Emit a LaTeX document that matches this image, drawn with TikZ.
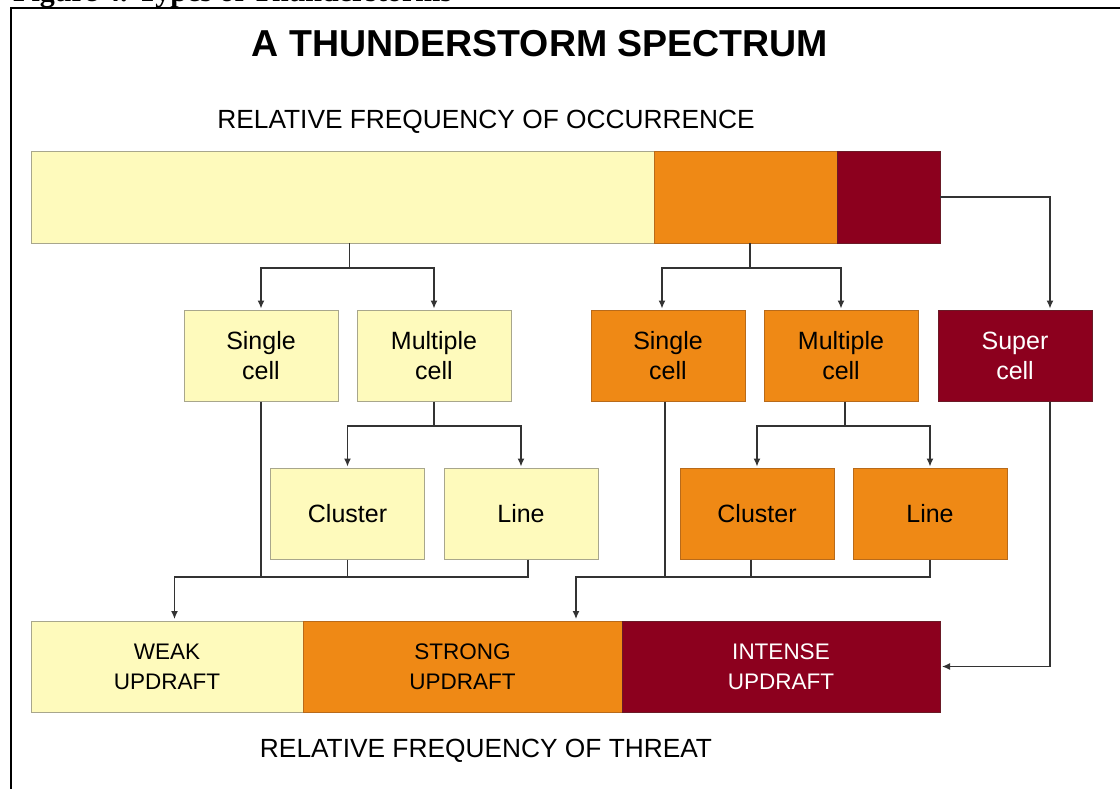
\documentclass[tikz,border=0pt]{standalone}
\usepackage{fontspec}
\setmainfont{Liberation Sans}
\newfontfamily\headserif{Liberation Serif}
\usetikzlibrary{arrows.meta,calc}

\definecolor{weakfill}{HTML}{FEFABC}
\definecolor{weakline}{HTML}{A8A68C}
\definecolor{strongfill}{HTML}{EF8915}
\definecolor{strongline}{HTML}{B86A1A}
\definecolor{intensefill}{HTML}{8C001E}
\definecolor{intenseline}{HTML}{6A1A26}
\definecolor{conngray}{HTML}{333333}

\tikzset{
  cellbox/.style={rectangle, inner sep=0pt, outer sep=0pt, minimum width=154pt,
    minimum height=91pt, align=center, line width=0.8pt,
    font=\fontsize{25}{30}\selectfont},
  barseg/.style={rectangle, inner sep=0pt, outer sep=0pt, minimum height=91pt,
    align=center, line width=0.8pt, font=\fontsize{22.5}{30}\selectfont},
  weak/.style={fill=weakfill, draw=weakline},
  strong/.style={fill=strongfill, draw=strongline},
  intense/.style={fill=intensefill, draw=intenseline, text=white},
  conn/.style={draw=conngray, line width=1.3pt},
  arr/.style={conn, -{Latex[length=8pt,width=7pt]}, shorten >=2pt},
  twoarr/.style={conn, {Latex[length=8pt,width=7pt]}-{Latex[length=8pt,width=7pt]},
    shorten <=2pt, shorten >=2pt}
}

\begin{document}
\begin{tikzpicture}[x=1pt,y=-1pt]
\useasboundingbox (0,0) rectangle (1120,788);

% Frame and cut caption
\draw[line width=2.2pt] (11,800) -- (11,8) -- (1130,8);
\node[anchor=base west, inner sep=0pt, font=\headserif\bfseries\fontsize{30}{30}\selectfont]
  (caption) at (13,1) {Figure 4. Types of Thunderstorms};

% Titles
\node[font=\bfseries\fontsize{37.5}{40}\selectfont] (title) at (540,44) {A THUNDERSTORM SPECTRUM};
\node[anchor=base, font=\fontsize{26.3}{30}\selectfont] (occtext) at (486,128) {RELATIVE FREQUENCY OF OCCURRENCE};
\node[anchor=base, font=\fontsize{26.3}{30}\selectfont] (threattext) at (486,757) {RELATIVE FREQUENCY OF THREAT};

% Occurrence bar
\node[barseg, weak, minimum width=623pt, minimum height=92pt] (occW) at (342.5,197) {};
\node[barseg, strong, minimum width=183pt, minimum height=92pt] (occS) at (745.5,197) {};
\node[barseg, intense, minimum width=103pt, minimum height=92pt] (occI) at (888.5,197) {};

% Storm types
\node[cellbox, weak] (singleW) at (261,356) {Single\\cell};
\node[cellbox, weak] (multiW) at (434,356) {Multiple\\cell};
\node[cellbox, strong] (singleS) at (668,356) {Single\\cell};
\node[cellbox, strong] (multiS) at (841,356) {Multiple\\cell};
\node[cellbox, intense] (super) at (1015,356) {Super\\cell};

\node[cellbox, weak] (clusterW) at (347.5,514) {Cluster};
\node[cellbox, weak] (lineW) at (521,514) {Line};
\node[cellbox, strong] (clusterS) at (757,514) {Cluster};
\node[cellbox, strong] (lineS) at (930,514) {Line};

% Threat bar
\node[barseg, weak, minimum width=272pt] (weakB) at (167,666.5) {WEAK\\UPDRAFT};
\node[barseg, strong, minimum width=319pt] (strongB) at (462.5,666.5) {STRONG\\UPDRAFT};
\node[barseg, intense, minimum width=318pt] (intenseB) at (781,666.5) {INTENSE\\UPDRAFT};

% Splits
\coordinate (forkW) at (349.5,268);
\coordinate (forkS) at (750,268);
\draw[conn] (occW.south -| forkW) -- (forkW);
\draw[twoarr] (singleW.north) |- (forkW) -| (multiW.north);
\draw[conn] (occS.south -| forkS) -- (forkS);
\draw[twoarr] ([xshift=-6pt]singleS.north) |- (forkS) -| (multiS.north);

\coordinate (forkMW) at (434,426);
\coordinate (forkMS) at (845,426);
\draw[conn] (multiW.south) -- (forkMW);
\draw[twoarr] (clusterW.north) |- (forkMW) -| (lineW.north);
\draw[conn] (multiS.south -| forkMS) -- (forkMS);
\draw[twoarr] (clusterS.north) |- (forkMS) -| (lineS.north);

% Merges
\coordinate (mergeW) at (174.5,577);
\coordinate (mergeS) at (576,577);
\draw[arr] ([xshift=7pt]lineW.south) |- (mergeW) -- (mergeW |- weakB.north);
\draw[conn] (singleW.south) -- (singleW.south |- mergeW);
\draw[conn] (clusterW.south) -- (clusterW.south |- mergeW);
\draw[arr] (lineS.south) |- (mergeS) -- (mergeS |- strongB.north);
\draw[conn] ([xshift=-3pt]singleS.south) -- ([xshift=-3pt]singleS.south |- mergeS);
\draw[conn] ([xshift=-6pt]clusterS.south) -- ([xshift=-6pt]clusterS.south |- mergeS);

% Supercell path
\draw[arr] (occI.east) -| ([xshift=35pt]super.north);
\draw[arr] ([xshift=35pt]super.south) |- (intenseB.east);

\end{tikzpicture}
\end{document}
